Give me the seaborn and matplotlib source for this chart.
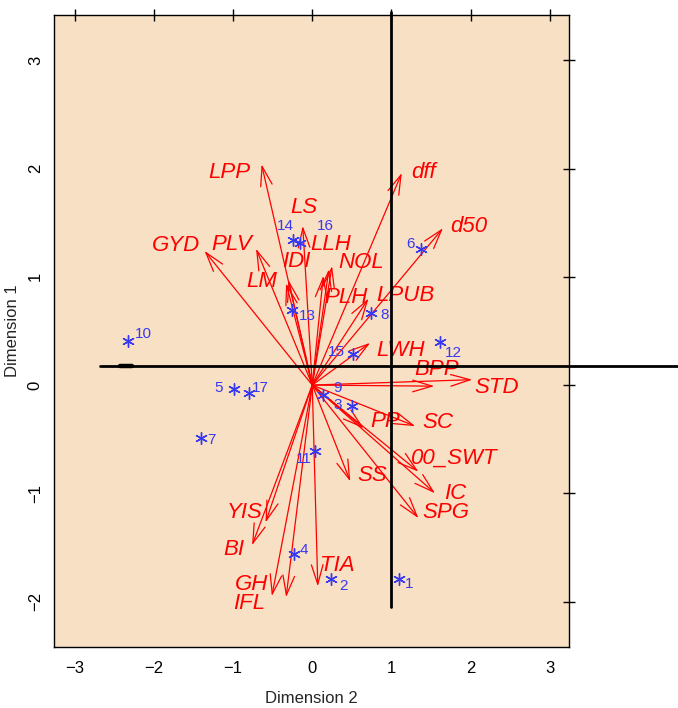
import matplotlib
matplotlib.use("Agg")
import matplotlib.pyplot as plt
import seaborn as sns
import pandas as pd

# ---------------- data ----------------
var_names = ["LPP", "GYD", "PLV", "LM", "LS", "IDI", "LLH", "NOL", "PLH", "LPUB",
             "dff", "d50", "LWH", "BPP", "STD", "PP", "SC", "00_SWT", "IC", "SPG",
             "SS", "TIA", "GH", "IFL", "BI", "YIS"]
var_x = [-0.64, -1.36, -0.71, -0.33, -0.12, -0.30, 0.21, 0.25, 0.14, 0.71,
         1.13, 1.65, 0.73, 1.54, 2.02, 0.65, 1.30, 1.34, 1.55, 1.34,
         0.48, 0.07, -0.51, -0.33, -0.76, -0.59]
var_y = [2.04, 1.24, 1.26, 0.94, 1.47, 0.97, 1.07, 1.10, 1.01, 0.80,
         1.96, 1.45, 0.39, -0.01, 0.05, -0.40, -0.38, -0.80, -1.00, -1.23,
         -0.89, -1.86, -1.95, -1.96, -1.48, -1.27]
var_label_x = [-1.04, -1.72, -1.01, -0.64, -0.10, -0.20, 0.23, 0.62, 0.42, 1.17,
               1.40, 1.97, 1.11, 1.57, 2.33, 0.92, 1.59, 1.78, 1.80, 1.68,
               0.76, 0.31, -0.76, -0.80, -0.99, -0.85]
var_label_y = [1.96, 1.29, 1.30, 0.955, 1.64, 1.14, 1.30, 1.13, 0.81, 0.83,
               1.96, 1.465, 0.32, 0.14, -0.02, -0.34, -0.35, -0.68, -1.00, -1.18,
               -0.84, -1.67, -1.84, -2.02, -1.52, -1.18]

obs_names = ["1", "2", "3", "4", "5", "6", "7", "8", "9", "10",
             "11", "12", "13", "14", "15", "16", "17"]
obs_x = [1.09, 0.24, 0.50, -0.23, -0.99, 1.37, -1.41, 0.74, 0.14, -2.32,
         0.03, 1.61, -0.26, -0.24, 0.51, -0.16, -0.80]
obs_y = [-1.79, -1.79, -0.19, -1.56, -0.04, 1.26, -0.49, 0.67, -0.09, 0.41,
         -0.61, 0.40, 0.69, 1.34, 0.29, 1.31, -0.07]
obs_label_x = [1.22, 0.40, 0.32, -0.10, -1.18, 1.24, -1.27, 0.91, 0.32, -2.13,
               -0.11, 1.78, -0.06, -0.34, 0.30, 0.16, -0.65]
obs_label_y = [-1.84, -1.86, -0.18, -1.52, -0.03, 1.30, -0.51, 0.65, -0.03, 0.47,
               -0.68, 0.30, 0.64, 1.47, 0.31, 1.47, -0.03]

x_ticks = [-3, -2, -1, 0, 1, 2, 3]
y_ticks = [-2, -1, 0, 1, 2, 3]
x_label = "Dimension 2"
y_label = "Dimension 1"

# reference lines
h_line_y = 0.175
h_line_x = [-2.685, 4.65]
h_line_thick_x = [-2.43, -2.27]
v_line_x = 1.0
v_line_y = [-2.05, 3.45]

# ---------------- style ----------------
sns.set_style("white")
plt.rcParams["font.family"] = ["Liberation Sans Narrow", "Liberation Sans", "DejaVu Sans"]

RED = "#FF0000"
BLUE = "#3838F0"
BG = "#F8E0C4"

fig = plt.figure(figsize=(6.78, 7.08), dpi=100)
fig.patch.set_facecolor("white")
ax = fig.add_axes([0.0796, 0.0862, 0.7596, 0.8927])
ax.set_facecolor(BG)

ax.set_xlim(-3.26, 3.24)
ax.set_ylim(-2.42, 3.42)

# arrows
for name, x, y in zip(var_names, var_x, var_y):
    ax.annotate("", xy=(x, y), xytext=(0, 0),
                arrowprops=dict(arrowstyle="->,head_length=1.4,head_width=0.42",
                                color=RED, lw=0.9, shrinkA=0, shrinkB=0))
for name, lx, ly in zip(var_names, var_label_x, var_label_y):
    ax.text(lx, ly, name, color=RED, fontsize=16, style="italic",
            ha="center", va="center")

# reference lines
ax.plot(h_line_x, [h_line_y, h_line_y], color="black", lw=2, clip_on=False, zorder=3)
ax.plot(h_line_thick_x, [h_line_y, h_line_y], color="black", lw=3.2, zorder=3)
ax.plot([v_line_x, v_line_x], v_line_y, color="black", lw=2, clip_on=False, zorder=3)

# observations
df = pd.DataFrame({"x": obs_x, "y": obs_y})
sns.scatterplot(data=df, x="x", y="y", marker=(6, 2, 0), s=70, color=BLUE,
                linewidth=1.0, ax=ax, zorder=4)
for name, lx, ly in zip(obs_names, obs_label_x, obs_label_y):
    ax.text(lx, ly, name, color=BLUE, fontsize=11, ha="center", va="center")

# axes
ax.set_xticks(x_ticks)
ax.set_yticks(y_ticks)
ax.set_xticklabels([str(t).replace("-", "\u2212") for t in x_ticks])
ax.set_yticklabels([str(t).replace("-", "\u2212") for t in y_ticks], rotation=90, va="center")
ax.tick_params(axis="both", which="both", direction="inout", length=8, width=1,
               colors="black", labelsize=12, top=True, right=True,
               labeltop=False, labelright=False, pad=4)
ax.tick_params(axis="x", pad=6)
for s in ax.spines.values():
    s.set_color("black")
    s.set_linewidth(1)

ax.set_xlabel(x_label, fontsize=12, labelpad=11)
ax.set_ylabel(y_label, fontsize=12, labelpad=6)

fig.savefig("out.png", dpi=100)
